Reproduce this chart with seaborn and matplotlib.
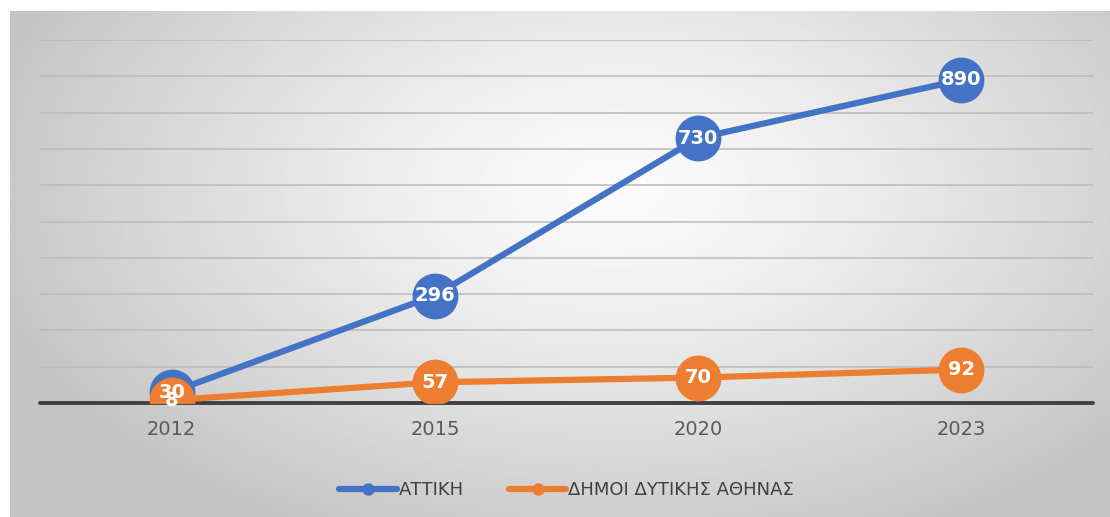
import numpy as np
import pandas as pd
import matplotlib
matplotlib.use("Agg")
import matplotlib.pyplot as plt
import seaborn as sns

# data
years = ["2012", "2015", "2020", "2023"]
attiki = [30, 296, 730, 890]
dytiki = [8, 57, 70, 92]
series_names = ["ΑΤΤΙΚΗ", "ΔΗΜΟΙ ΔΥΤΙΚΗΣ ΑΘΗΝΑΣ"]
colors = ["#4472C4", "#ED7D31"]

df = pd.DataFrame({
    "x": list(range(len(years))) * 2,
    "value": attiki + dytiki,
    "series": [series_names[0]] * len(years) + [series_names[1]] * len(years),
})

sns.set_theme(style="white")
plt.rcParams['font.family'] = ['DejaVu Sans']

fig = plt.figure(figsize=(11.1, 5.17), dpi=100)
fig.patch.set_facecolor("white")

# chart-area background: soft radial gradient, gray edges -> white centre
bg = fig.add_axes([10 / 1110, 0, 1 - 10 / 1110, 1 - 11 / 517], zorder=0)
yy, xx = np.mgrid[0:1:300j, 0:1:600j]
r = np.sqrt(((xx - 0.55) / 0.7) ** 2 + ((yy - 0.35) / 0.9) ** 2)
shade = np.clip(0.985 - 0.27 * r ** 1.3, 0.77, 0.985)
bg.imshow(shade, cmap="gray", vmin=0, vmax=1, aspect="auto", extent=[0, 1, 1, 0])
bg.axis("off")

ax = fig.add_axes([40 / 1110, 1 - 403 / 517, (1093 - 40) / 1110, (403 - 40) / 517], zorder=1)
ax.patch.set_alpha(0)

for y in range(100, 1001, 100):
    ax.axhline(y, color="#bababa", lw=1.1, zorder=1)
ax.axhline(0, color="#404040", lw=2.8, zorder=2, clip_on=False)

sns.lineplot(data=df, x="x", y="value", hue="series", palette=colors,
             marker="o", markersize=33, markeredgewidth=0, lw=4.5,
             ax=ax, zorder=3)

for vals, c in zip([attiki, dytiki], colors):
    for i, v in enumerate(vals):
        ax.text(i, v, str(v), color="white", fontsize=14, fontweight="bold",
                ha="center", va="center", zorder=10)

ax.set_xlim(-0.5, len(years) - 0.5)
ax.set_ylim(0, 1000)
ax.set_xticks(range(len(years)))
ax.set_xticklabels(years, fontsize=14, color="#595959")
ax.tick_params(axis="x", length=0, pad=12)
ax.set_yticks([])
ax.set_xlabel("")
ax.set_ylabel("")
for s in ax.spines.values():
    s.set_visible(False)

handles, labels = ax.get_legend_handles_labels()
for h in handles:
    h.set_markersize(9)
    h.set_linewidth(4.5)
ax.legend(handles, labels, loc="center", bbox_to_anchor=(0.5, -0.24),
          ncol=2, frameon=False, fontsize=13, labelcolor="#404040",
          handlelength=3.2, handletextpad=0.1, columnspacing=2.5)

fig.savefig("out.png", dpi=100)
